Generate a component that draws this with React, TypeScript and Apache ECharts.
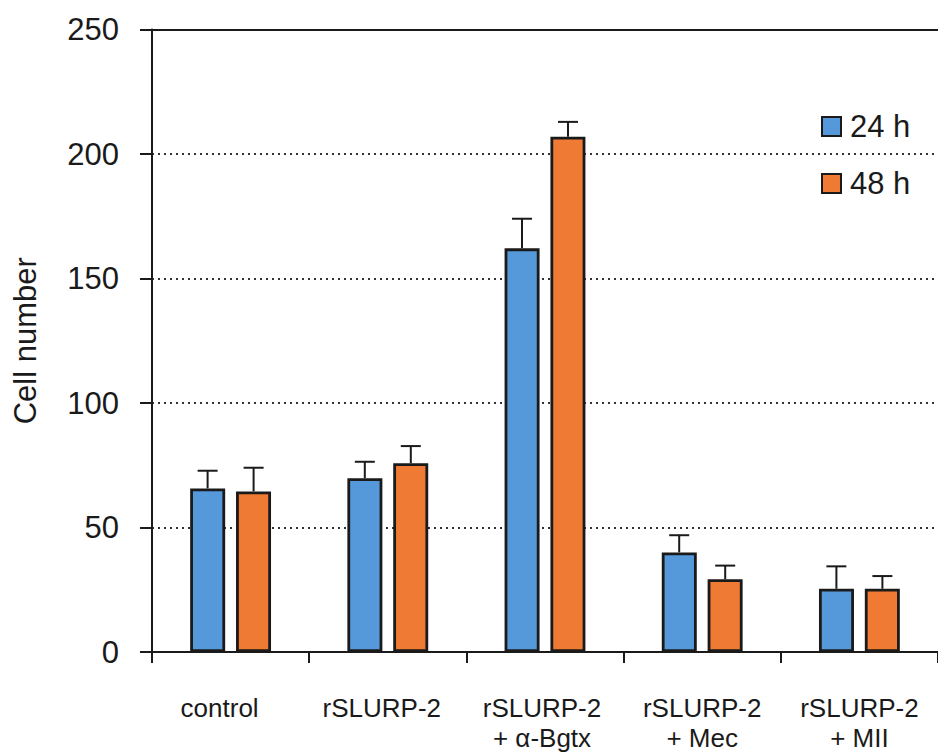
import React, { useEffect, useRef } from "react";
import * as echarts from "echarts";

const categories = [
  "control",
  "rSLURP-2",
  "rSLURP-2\n+ α-Bgtx",
  "rSLURP-2\n+ Mec",
  "rSLURP-2\n+ MII",
];
const seriesNames = ["24 h", "48 h"];
const values24 = [65.7, 69.8, 162.1, 40.0, 25.4];
const values48 = [64.5, 75.8, 206.9, 29.2, 25.4];
const errors24 = [7.1, 6.6, 11.9, 6.9, 9.0];
const errors48 = [9.5, 6.9, 6.0, 5.5, 5.1];
const yTicks = [0, 50, 100, 150, 200, 250];

const FONT = "'Liberation Sans', Arial, Helvetica, sans-serif";
const BLUE = "#5599DB";
const ORANGE = "#EE7A33";
const INK = "#1a1a1a";
// small leftward nudge of some category labels, as in the original figure
const labelNudge = [22, 12, 6, 0, 0];

function errorSeries(name: string, vals: number[], errs: number[], offset: number) {
  return {
    type: "custom",
    name: name + " err",
    z: 5,
    silent: true,
    data: vals.map((v, i) => [i, v, v + errs[i]]),
    renderItem: (_params: any, api: any) => {
      const idx = api.value(0);
      const base = api.coord([idx, api.value(1)]);
      const top = api.coord([idx, api.value(2)]);
      const x = base[0] + offset;
      const style = { stroke: INK, lineWidth: 2, fill: "none" };
      return {
        type: "group",
        children: [
          { type: "line", shape: { x1: x, y1: base[1], x2: x, y2: top[1] }, style },
          { type: "line", shape: { x1: x - 10, y1: top[1], x2: x + 10, y2: top[1] }, style },
        ],
      };
    },
  };
}

export default function App() {
  const ref = useRef<HTMLDivElement>(null);
  useEffect(() => {
    if (!ref.current) return;
    const chart = echarts.init(ref.current, null, { renderer: "svg" });
    const option: any = {
      animation: false,
      backgroundColor: "#ffffff",
      textStyle: { fontFamily: FONT },
      grid: { left: 152, top: 29.5, bottom: 101, width: 788 },
      legend: {
        data: seriesNames,
        orient: "vertical",
        left: 816,
        top: 106,
        icon: "rect",
        itemWidth: 19,
        itemHeight: 19,
        itemGap: 26,
        selectedMode: false,
        textStyle: {
          fontFamily: FONT,
          fontSize: 31,
          lineHeight: 31,
          color: INK,
          padding: [0, 0, 0, 4],
        },
      },
      xAxis: {
        type: "category",
        data: categories.map((c, i) => ({
          value: c,
          textStyle: { padding: [0, labelNudge[i], 0, 0] },
        })),
        axisLine: { lineStyle: { color: INK, width: 2 } },
        axisTick: { show: true, length: 11, lineStyle: { color: INK, width: 2 } },
        axisLabel: {
          interval: 0,
          margin: 41,
          fontFamily: FONT,
          fontSize: 26,
          lineHeight: 30,
          color: INK,
        },
      },
      yAxis: {
        type: "value",
        min: yTicks[0],
        max: yTicks[yTicks.length - 1],
        interval: 50,
        name: "Cell number",
        nameLocation: "middle",
        nameRotate: 90,
        nameGap: 111,
        nameTextStyle: { fontFamily: FONT, fontSize: 31, color: INK },
        axisLine: { show: true, lineStyle: { color: INK, width: 2 } },
        axisTick: { show: true, length: 12, lineStyle: { color: INK, width: 2 } },
        axisLabel: { margin: 33, fontFamily: FONT, fontSize: 31, color: INK },
        splitLine: {
          show: true,
          lineStyle: { color: "#333", width: 2, type: [2, 4] },
        },
      },
      series: [
        {
          type: "bar",
          name: seriesNames[0],
          data: values24,
          barWidth: 35,
          barGap: "31%",
          itemStyle: { color: BLUE, borderColor: INK, borderWidth: 2.8 },
          markLine: {
            silent: true,
            symbol: "none",
            label: { show: false },
            lineStyle: { color: INK, width: 2, type: "solid" },
            data: [{ yAxis: yTicks[yTicks.length - 1] }],
          },
        },
        {
          type: "bar",
          name: seriesNames[1],
          data: values48,
          barWidth: 35,
          barGap: "31%",
          itemStyle: { color: ORANGE, borderColor: INK, borderWidth: 2.8 },
        },
        errorSeries(seriesNames[0], values24, errors24, -23),
        errorSeries(seriesNames[1], values48, errors48, 23),
      ],
    };
    chart.setOption(option);
    return () => chart.dispose();
  }, []);
  return (
    <div
      ref={ref}
      style={{ position: "fixed", left: 0, top: 0, width: 938, height: 753, background: "#fff" }}
    />
  );
}
